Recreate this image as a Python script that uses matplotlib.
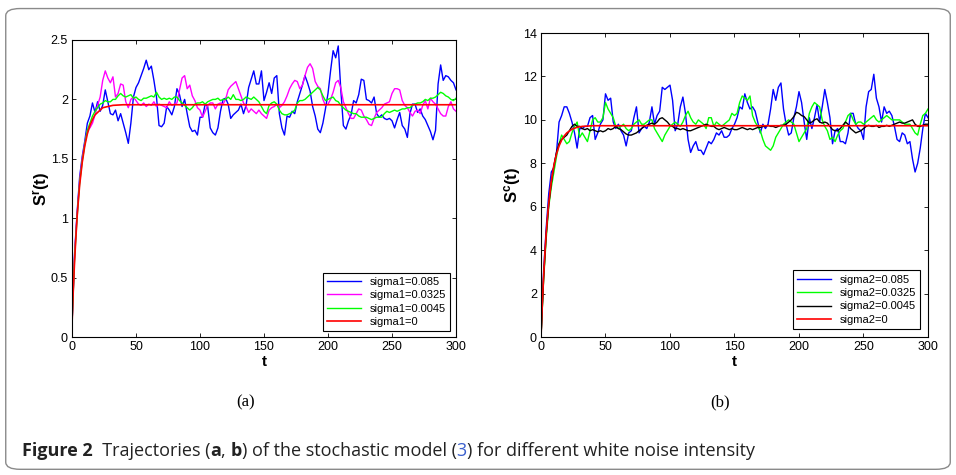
import numpy as np
import matplotlib
matplotlib.use("Agg")
import matplotlib.pyplot as plt
from matplotlib.patches import FancyBboxPatch
from matplotlib import font_manager

plt.rcParams['font.family'] = ['Liberation Sans', 'DejaVu Sans']
plt.rcParams['mathtext.fontset'] = 'custom'
plt.rcParams['mathtext.rm'] = 'Liberation Sans'
plt.rcParams['mathtext.bf'] = 'Liberation Sans:bold'

# time grid of the stochastic runs (read every 2 units)
t = np.arange(0, 301, 2)

# deterministic curves (sigma = 0)
t_det = [0, 1, 2, 3, 4, 5, 6, 8, 10, 12, 14, 16, 18, 20, 24, 28, 32, 40, 300]
sr_det = [0.1, 0.39, 0.63, 0.83, 1.01, 1.15, 1.28, 1.47, 1.61, 1.71, 1.78, 1.83,
          1.87, 1.89, 1.93, 1.94, 1.95, 1.955, 1.955]
sc_det = [0, 1.5, 2.76, 3.83, 4.75, 5.51, 6.16, 7.18, 7.91, 8.43, 8.80, 9.07,
          9.26, 9.40, 9.57, 9.66, 9.70, 9.73, 9.73]

# panel (a)
sr_085 = [0.1, 0.70, 1.05, 1.35, 1.52, 1.65, 1.80, 1.86, 1.97, 1.89,
          1.98, 1.90, 1.95, 2.08, 1.98, 1.88, 1.87, 1.91, 1.82, 1.88,
          1.80, 1.72, 1.63, 1.80, 2.02, 2.10, 2.14, 2.20, 2.26, 2.33,
          2.25, 2.28, 2.16, 2.02, 1.78, 1.77, 1.80, 1.94, 1.91, 1.87,
          1.94, 2.09, 2.04, 1.94, 2.00, 1.88, 1.77, 1.73, 1.74, 1.70,
          1.85, 1.85, 1.96, 1.94, 1.76, 1.72, 1.70, 1.76, 1.90, 2.00,
          2.01, 1.96, 1.84, 1.87, 1.89, 1.91, 1.96, 1.88, 1.95, 2.10,
          2.17, 2.24, 2.13, 2.13, 2.24, 1.99, 2.06, 2.14, 2.05, 2.18,
          2.20, 1.88, 1.76, 1.70, 1.86, 1.85, 1.90, 1.88, 1.98, 2.05,
          2.12, 2.20, 2.14, 2.07, 1.94, 1.86, 1.75, 1.72, 1.80, 1.92,
          2.05, 2.24, 2.41, 2.35, 2.45, 2.08, 1.78, 1.75, 1.82, 1.87,
          1.99, 1.97, 2.04, 2.17, 2.16, 2.00, 1.99, 1.97, 2.02, 1.88,
          1.85, 1.87, 1.84, 1.83, 1.84, 1.82, 1.76, 1.83, 1.89, 1.78,
          1.75, 1.68, 1.88, 1.96, 1.96, 1.89, 1.92, 1.86, 1.83, 1.78,
          1.73, 1.66, 1.74, 2.13, 2.29, 2.16, 2.20, 2.19, 2.16, 2.14,
          2.08]
sr_0325 = [0.1, 0.68, 1.03, 1.32, 1.50, 1.63, 1.74, 1.76, 1.80, 1.87,
           1.95, 2.02, 2.16, 2.24, 2.18, 2.14, 2.19, 2.02, 2.05, 2.13,
           2.12, 1.98, 1.93, 2.00, 2.02, 1.99, 1.96, 1.95, 1.97, 1.94,
           1.96, 1.95, 1.98, 1.94, 1.96, 1.95, 1.94, 1.93, 1.98, 1.95,
           1.96, 1.97, 2.08, 2.18, 2.20, 2.09, 2.12, 2.03, 1.99, 1.93,
           1.91, 1.85, 1.90, 1.95, 1.97, 1.97, 1.92, 1.96, 1.97, 1.96,
           2.00, 2.08, 2.11, 2.13, 2.15, 2.09, 2.03, 1.97, 1.94, 1.89,
           1.92, 1.90, 1.88, 1.91, 1.88, 1.86, 1.84, 1.91, 1.93, 1.94,
           1.96, 1.93, 1.95, 1.98, 2.03, 2.09, 2.13, 2.16, 2.15, 2.09,
           2.12, 2.20, 2.27, 2.30, 2.26, 2.15, 2.11, 2.09, 2.00, 1.95,
           1.96, 2.00, 2.06, 2.14, 2.16, 2.10, 1.98, 1.93, 1.88, 1.84,
           1.84, 1.88, 1.92, 1.91, 1.86, 1.83, 1.79, 1.78, 1.84, 1.89,
           1.91, 1.93, 1.96, 1.97, 1.98, 2.05, 2.09, 2.09, 2.08, 1.99,
           1.95, 1.93, 1.89, 1.86, 1.90, 1.91, 1.88, 1.95, 1.99, 1.92,
           2.01, 1.98, 1.96, 1.92, 1.88, 1.86, 1.86, 1.94, 1.98, 1.92,
           1.90]
sr_0045 = [0.1, 0.66, 1.01, 1.30, 1.48, 1.62, 1.74, 1.80, 1.86, 1.90,
           1.93, 1.96, 1.97, 1.99, 1.98, 1.98, 2.00, 2.00, 2.03, 2.05,
           2.03, 2.02, 2.03, 2.04, 2.01, 2.02, 2.00, 1.99, 2.01, 2.01,
           2.02, 2.03, 2.02, 2.06, 2.02, 2.00, 2.01, 2.00, 2.01, 2.00,
           2.02, 2.02, 1.99, 1.97, 1.95, 1.93, 1.91, 1.93, 1.96, 1.97,
           1.97, 1.98, 1.96, 1.98, 1.99, 2.00, 2.00, 2.01, 1.99, 2.00,
           2.00, 2.02, 2.00, 2.04, 2.00, 2.00, 1.99, 2.00, 2.02, 2.01,
           2.00, 2.02, 2.00, 1.98, 1.94, 1.90, 1.88, 1.95, 1.97, 1.98,
           1.96, 1.91, 1.88, 1.87, 1.87, 1.88, 1.89, 1.91, 1.97, 1.99,
           1.99, 2.00, 2.02, 2.04, 2.06, 2.08, 2.10, 2.08, 2.03, 1.99,
           2.00, 2.01, 2.02, 1.99, 1.98, 1.95, 1.93, 1.91, 1.90, 1.89,
           1.88, 1.88, 1.86, 1.85, 1.85, 1.85, 1.84, 1.83, 1.84, 1.85,
           1.85, 1.85, 1.88, 1.90, 1.89, 1.90, 1.91, 1.90, 1.91, 1.92,
           1.92, 1.93, 1.93, 1.95, 1.96, 1.97, 1.97, 1.98, 2.00, 1.99,
           2.01, 2.01, 2.02, 2.04, 2.06, 2.05, 2.03, 2.02, 2.00, 1.99,
           2.01]

# panel (b)
sc_085 = [0, 3.0, 5.0, 6.6, 7.6, 7.8, 8.5, 9.9, 10.2, 10.6,
          10.6, 10.3, 9.9, 9.4, 8.7, 9.6, 9.6, 9.7, 9.7, 10.1,
          10.2, 9.1, 9.4, 9.8, 10.0, 11.2, 10.9, 11.0, 9.9, 9.6,
          9.8, 9.5, 9.3, 8.8, 9.4, 9.5, 10.1, 10.6, 9.4, 9.6,
          9.7, 9.6, 9.9, 10.6, 9.8, 10.2, 10.4, 11.5, 11.4, 11.5,
          11.6, 10.9, 9.5, 9.8, 10.6, 11.05, 10.3, 9.1, 8.5, 8.8,
          9.0, 8.6, 8.6, 8.4, 8.7, 9.0, 8.9, 9.1, 9.4, 9.3,
          9.5, 9.2, 9.2, 9.3, 9.6, 9.8, 10.1, 10.6, 10.5, 11.2,
          10.8, 10.5, 10.6, 10.4, 9.9, 9.4, 9.8, 9.6, 9.8, 10.5,
          11.4, 10.9, 11.5, 11.7, 10.5, 9.8, 9.3, 9.4, 10.1, 10.6,
          11.3, 10.8, 9.9, 9.1, 10.1, 9.6, 10.1, 10.7, 9.9, 10.6,
          11.4, 10.8, 10.1, 8.9, 9.5, 9.6, 9.0, 9.0, 8.9, 9.4,
          10.3, 10.3, 9.8, 9.6, 9.5, 9.1, 10.6, 11.3, 11.4, 12.1,
          11.0, 10.6, 9.9, 10.6, 10.3, 10.4, 10.2, 9.7, 9.1, 9.0,
          9.4, 9.3, 8.9, 9.0, 8.2, 7.6, 8.0, 8.7, 9.6, 10.3,
          10.1]
sc_0325 = [0, 2.6, 4.5, 6.0, 6.9, 7.6, 8.3, 8.9, 9.3, 9.1,
           8.9, 9.0, 9.4, 9.7, 9.9, 9.2, 9.4, 9.2, 9.0, 9.5,
           10.0, 10.1, 9.9, 9.9, 10.1, 10.8, 10.5, 10.3, 10.1, 9.7,
           9.6, 9.7, 9.8, 9.6, 9.5, 9.6, 9.8, 9.9, 10.0, 9.8,
           9.8, 9.9, 10.0, 10.0, 9.6, 9.4, 9.2, 9.0, 9.3, 9.5,
           9.7, 9.8, 9.9, 9.8, 9.7, 9.9, 10.2, 10.4, 10.1, 9.9,
           9.8, 10.0, 9.9, 9.8, 9.6, 10.1, 10.1, 9.7, 9.9, 9.8,
           9.7, 9.8, 9.9, 10.0, 10.3, 10.2, 10.3, 10.8, 11.1, 11.0,
           10.9, 11.1, 10.2, 9.9, 9.7, 9.5, 9.1, 8.8, 8.7, 8.6,
           8.8, 9.2, 9.4, 9.6, 9.8, 9.9, 10.0, 9.9, 9.8, 9.4,
           9.0, 9.2, 9.4, 9.6, 10.3, 10.6, 10.8, 10.7, 10.6, 10.0,
           9.7, 9.5, 9.1, 9.2, 9.0, 9.3, 9.5, 9.6, 9.9, 10.2,
           10.3, 10.0, 9.8, 9.9, 9.9, 9.8, 9.9, 10.0, 10.1, 10.2,
           10.0, 9.9, 10.0, 10.1, 10.2, 10.1, 10.0, 10.0, 10.0, 10.0,
           9.9, 9.8, 9.8, 9.8, 9.6, 9.4, 9.3, 9.8, 10.2, 10.3,
           10.5]
sc_0045 = [0, 2.7, 4.7, 6.1, 7.1, 7.9, 8.5, 8.9, 9.1, 9.2,
           9.3, 9.5, 9.7, 9.8, 9.7, 9.7, 9.6, 9.55, 9.6, 9.5,
           9.55, 9.5, 9.45, 9.5, 9.45, 9.5, 9.6, 9.55, 9.6, 9.7,
           9.6, 9.55, 9.45, 9.35, 9.3, 9.3, 9.35, 9.4, 9.5, 9.6,
           9.7, 9.75, 9.8, 9.85, 9.8, 9.9, 10.05, 10.1, 10.0, 9.9,
           9.75, 9.7, 9.6, 9.6, 9.55, 9.6, 9.55, 9.5, 9.5, 9.55,
           9.6, 9.65, 9.7, 9.75, 9.8, 9.75, 9.7, 9.7, 9.6, 9.55,
           9.6, 9.65, 9.6, 9.55, 9.6, 9.55, 9.55, 9.6, 9.65, 9.6,
           9.55, 9.6, 9.55, 9.6, 9.65, 9.65, 9.7, 9.7, 9.75, 9.7,
           9.7, 9.65, 9.7, 9.75, 9.75, 9.8, 9.9, 10.0, 10.15, 10.35,
           10.3, 10.2, 10.15, 10.0, 9.85, 9.9, 10.0, 10.05, 9.9, 9.85,
           9.9, 9.85, 9.7, 9.55, 9.5, 9.5, 9.6, 9.75, 9.9, 9.8,
           9.6, 9.5, 9.4, 9.45, 9.5, 9.6, 9.7, 9.75, 9.7, 9.7,
           9.75, 9.65, 9.7, 9.7, 9.75, 9.7, 9.75, 9.8, 9.85, 9.9,
           9.85, 9.85, 9.9, 9.95, 10.0, 9.8, 9.7, 9.7, 9.75, 9.8,
           9.8]

labels_a = ['sigma1=0.085', 'sigma1=0.0325', 'sigma1=0.0045', 'sigma1=0']
labels_b = ['sigma2=0.085', 'sigma2=0.0325', 'sigma2=0.0045', 'sigma2=0']


def style_axes(ax):
    ax.tick_params(direction='in', top=True, right=True, labelsize=9,
                   length=3, width=0.6, pad=3)
    for s in ax.spines.values():
        s.set_linewidth(0.8)


fig = plt.figure(figsize=(9.56, 4.75), dpi=100)

# outer frame
fig.patches.append(FancyBboxPatch((0.006, 0.012), 0.988, 0.97,
                                  boxstyle='round,pad=0,rounding_size=0.015',
                                  transform=fig.transFigure, fill=False,
                                  edgecolor='#8a8a8a', linewidth=1.0))

ax1 = fig.add_axes([0.0753, 0.2905, 0.4017, 0.6253])
ax1.plot(t, sr_085, color='#0000ff', lw=1.0, label=labels_a[0])
ax1.plot(t, sr_0325, color='#ff00ff', lw=1.0, label=labels_a[1])
ax1.plot(t, sr_0045, color='#00ff00', lw=1.0, label=labels_a[2])
ax1.plot(t_det, sr_det, color='#ff0000', lw=1.2, label=labels_a[3])
ax1.set_xlim(0, 300)
ax1.set_ylim(0, 2.5)
ax1.set_xticks(np.arange(0, 301, 50))
ax1.set_yticks([0, 0.5, 1, 1.5, 2, 2.5])
ax1.set_yticklabels(['0', '0.5', '1', '1.5', '2', '2.5'])
ax1.set_xlabel('t', fontsize=11, fontweight='bold', labelpad=1)
ax1.set_ylabel(r'$\mathbf{S^{r}(t)}$', fontsize=12, labelpad=-1)
style_axes(ax1)
ax1.legend(loc='lower right', fontsize=8, handlelength=3.0, frameon=True,
           fancybox=False, edgecolor='black', framealpha=1,
           borderaxespad=0.5, labelspacing=0.3).get_frame().set_linewidth(0.8)

ax2 = fig.add_axes([0.5659, 0.2905, 0.4048, 0.640])
ax2.plot(t, sc_085, color='#0000ff', lw=1.0, label=labels_b[0])
ax2.plot(t, sc_0325, color='#00ff00', lw=1.0, label=labels_b[1])
ax2.plot(t, sc_0045, color='black', lw=1.0, label=labels_b[2])
ax2.plot(t_det, sc_det, color='#ff0000', lw=1.2, label=labels_b[3])
ax2.set_xlim(0, 300)
ax2.set_ylim(0, 14)
ax2.set_xticks(np.arange(0, 301, 50))
ax2.set_yticks(np.arange(0, 15, 2))
ax2.set_xlabel('t', fontsize=11, fontweight='bold', labelpad=1)
ax2.set_ylabel(r'$\mathbf{S^{c}(t)}$', fontsize=12, labelpad=0)
style_axes(ax2)
ax2.legend(loc='lower right', fontsize=8, handlelength=3.0, frameon=True,
           fancybox=False, edgecolor='black', framealpha=1,
           borderaxespad=0.7, labelspacing=0.3).get_frame().set_linewidth(0.8)

# sub-captions
fig.text(0.2573, 1 - 402 / 475, '(a)', family='Liberation Serif', fontsize=12,
         ha='center', va='center')
fig.text(0.7532, 1 - 402 / 475, '(b)', family='Liberation Serif', fontsize=12,
         ha='center', va='center')

# figure caption, written piece by piece (condensed face if there is one)
installed = {f.name for f in font_manager.fontManager.ttflist}
cap_font = 'Liberation Sans Narrow' if 'Liberation Sans Narrow' in installed else 'Open Sans'
renderer = fig.canvas.get_renderer()
pieces = [('Figure 2', dict(fontweight='bold')),
          ('  Trajectories (', {}),
          ('a', dict(fontweight='bold')),
          (', ', {}),
          ('b', dict(fontweight='bold')),
          (') of the stochastic model (', {}),
          ('3', dict(color='#3a5fcd')),
          (') for different white noise intensity', {})]


def write_caption(size):
    x = 22 / 956
    y = 1 - 451 / 475
    made = []
    for txt, kw in pieces:
        tt = fig.text(x, y, txt, family=cap_font, fontsize=size, va='center',
                      color=kw.get('color', '#222222'),
                      fontweight=kw.get('fontweight', 'normal'))
        made.append(tt)
        x = tt.get_window_extent(renderer).x1 / fig.bbox.width
    return made, x * fig.bbox.width


size = 11
made, right = write_caption(size)
# fit the caption to the reference width (ends near x = 768 px)
for tt in made:
    tt.remove()
size = min(13, size * (768 - 22) / (right - 22))
write_caption(size)

fig.savefig('out.png', dpi=100)
